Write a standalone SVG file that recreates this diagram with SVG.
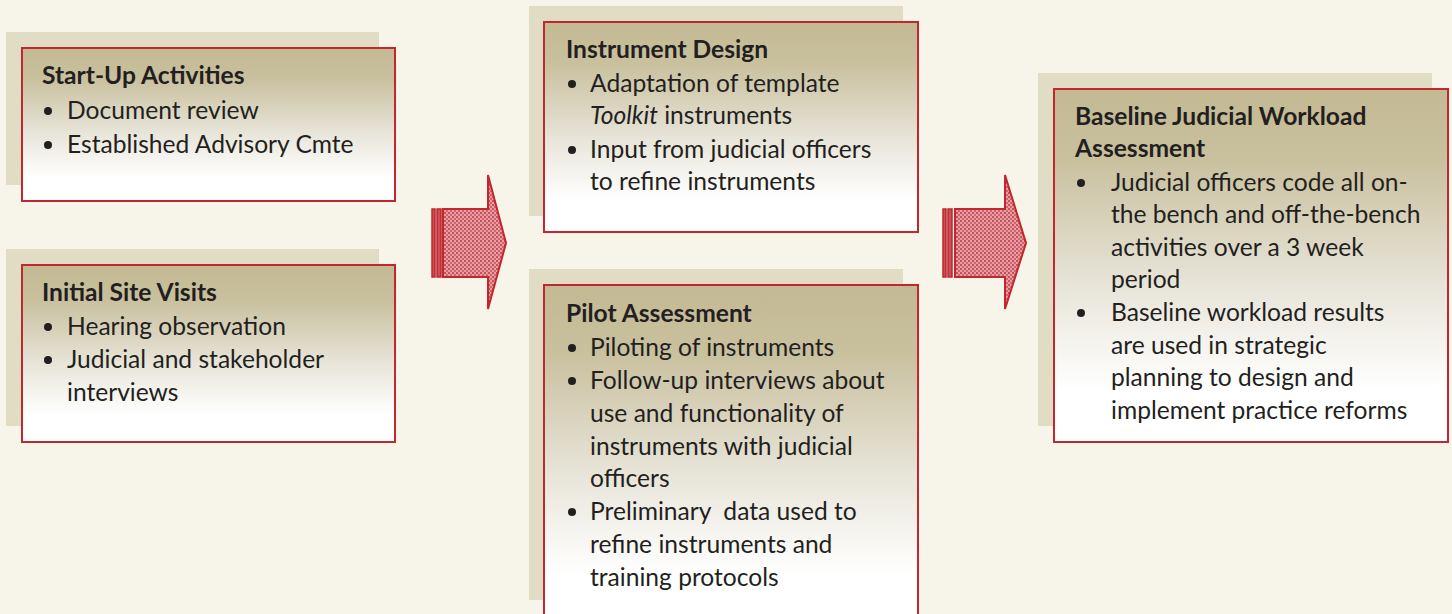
<svg xmlns="http://www.w3.org/2000/svg" width="1452" height="614" viewBox="0 0 1452 614">
<defs>
<linearGradient id="g" x1="0" y1="0" x2="0" y2="1">
<stop offset="0" stop-color="#c3b993"/>
<stop offset="0.2" stop-color="#c9c09e"/>
<stop offset="0.55" stop-color="#e7e4d8"/>
<stop offset="0.85" stop-color="#ffffff"/>
</linearGradient>
<pattern id="dots" width="4" height="4" patternUnits="userSpaceOnUse">
<rect width="4" height="4" fill="#e3a1a5"/>
<rect x="0" y="0" width="2" height="2" fill="#c9505a"/>
<rect x="2" y="2" width="2" height="2" fill="#d0636b"/>
</pattern>
<style>
.sh{fill:#e1dcc4}
.bx{fill:url(#g);stroke:#c1272d;stroke-width:2}
text{font-family:Lato,"Liberation Sans",sans-serif;font-size:24.6px;fill:#231f20}
.t{font-weight:bold}
.ar{fill:url(#dots);stroke:#c1272d;stroke-width:2}
.bar{fill:#c9505a;stroke:#c1272d;stroke-width:1.5}
circle{fill:#231f20}
</style>
</defs>
<rect width="1452" height="614" fill="#f7f4e9"/>
<g id="startup">
<rect class="sh" x="6" y="32" width="373" height="153"/>
<rect class="bx" x="22" y="48" width="373" height="153"/>
<text class="t" x="42" y="84">Start-Up Activities</text>
<circle cx="48" cy="111" r="4"/><text x="67" y="119">Document review</text>
<circle cx="48" cy="145" r="4"/><text x="67" y="153">Established Advisory Cmte</text>
</g>
<g id="sitevisits">
<rect class="sh" x="6" y="249" width="373" height="177"/>
<rect class="bx" x="22" y="265" width="373" height="177"/>
<text class="t" x="42" y="301">Initial Site Visits</text>
<circle cx="48" cy="327" r="4"/><text x="67" y="335">Hearing observation</text>
<circle cx="48" cy="360" r="4"/><text x="67" y="368">Judicial and stakeholder</text>
<text x="67" y="401">interviews</text>
</g>
<g id="design">
<rect class="sh" x="529" y="6" width="374" height="210"/>
<rect class="bx" x="544" y="22" width="374" height="210"/>
<text class="t" x="566" y="58">Instrument Design</text>
<circle cx="572" cy="84" r="4"/><text x="590" y="92">Adaptation of template</text>
<text x="590" y="124"><tspan font-style="italic">Toolkit</tspan> instruments</text>
<circle cx="572" cy="150" r="4"/><text x="590" y="158">Input from judicial officers</text>
<text x="590" y="190">to refine instruments</text>
</g>
<g id="pilot">
<rect class="sh" x="529" y="269" width="374" height="331"/>
<rect class="bx" x="544" y="285" width="374" height="340"/>
<text class="t" x="566" y="322">Pilot Assessment</text>
<circle cx="572" cy="348" r="4"/><text x="590" y="356">Piloting of instruments</text>
<circle cx="572" cy="381" r="4"/><text x="590" y="389">Follow-up interviews about</text>
<text x="590" y="422">use and functionality of</text>
<text x="590" y="455">instruments with judicial</text>
<text x="590" y="487">officers</text>
<circle cx="572" cy="512" r="4"/><text x="590" y="520" xml:space="preserve">Preliminary  data used to</text>
<text x="590" y="553">refine instruments and</text>
<text x="590" y="586">training protocols</text>
</g>
<g id="baseline">
<rect class="sh" x="1038" y="73" width="394" height="353"/>
<rect class="bx" x="1054" y="89" width="394" height="353"/>
<text class="t" x="1075" y="125">Baseline Judicial Workload</text>
<text class="t" x="1075" y="157">Assessment</text>
<circle cx="1081" cy="183" r="4"/><text x="1111" y="191">Judicial officers code all on-</text>
<text x="1111" y="223">the bench and off-the-bench</text>
<text x="1111" y="256">activities over a 3 week</text>
<text x="1111" y="288">period</text>
<circle cx="1081" cy="313" r="4"/><text x="1111" y="321">Baseline workload results</text>
<text x="1111" y="354">are used in strategic</text>
<text x="1111" y="386">planning to design and</text>
<text x="1111" y="419">implement practice reforms</text>
</g>
<g id="connectors">
<g id="arrow1">
<rect class="bar" x="432" y="209" width="3" height="68"/>
<rect class="bar" x="437" y="209" width="4" height="68"/>
<path class="ar" d="M443,209 H488 V175 L506,243 L488,309 V277 H443 Z"/>
</g>
<g id="arrow2">
<rect class="bar" x="943" y="209" width="3" height="68"/>
<rect class="bar" x="948" y="209" width="4" height="68"/>
<path class="ar" d="M955,209 H1005 V175 L1026,243 L1005,309 V277 H955 Z"/>
</g>
</g>
</svg>
